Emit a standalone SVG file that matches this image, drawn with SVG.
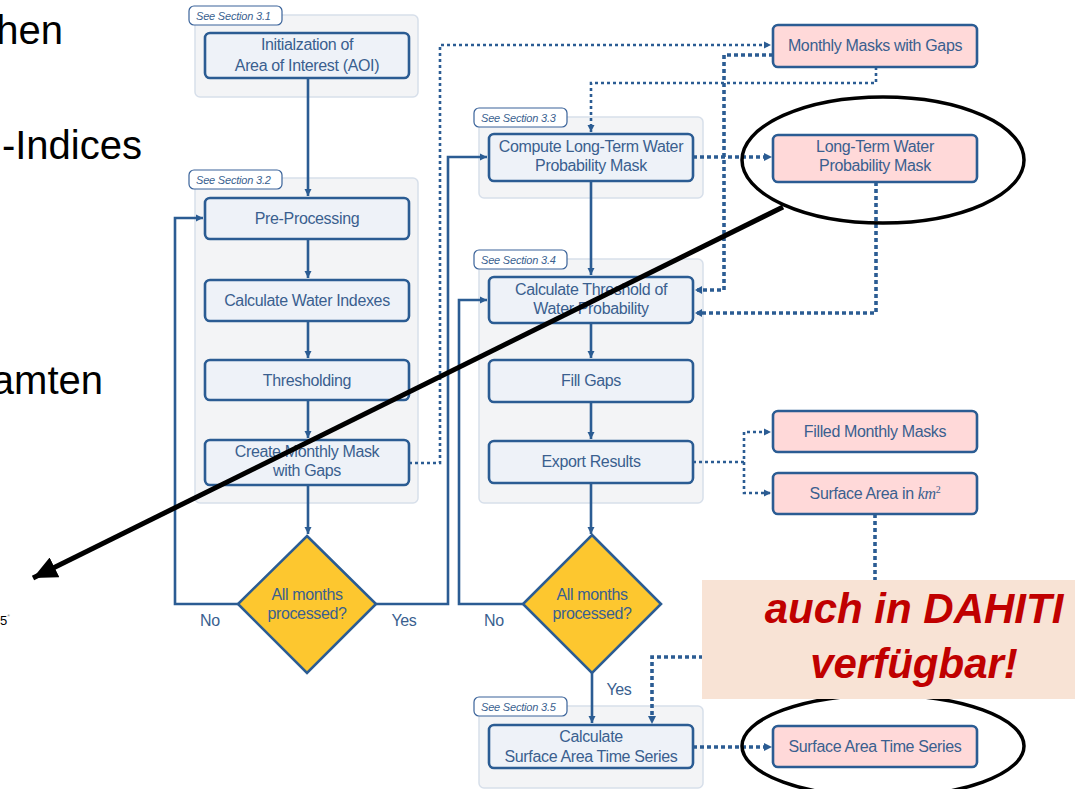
<svg xmlns="http://www.w3.org/2000/svg" width="1075" height="789" viewBox="0 0 1075 789">
<defs>
<style>
.sec{fill:#F3F4F6;stroke:#D7DFEA;stroke-width:1.5}
.lab{fill:#FFFFFF;stroke:#3A639A;stroke-width:1.2}
.labt{font-family:"Liberation Sans",Arial,sans-serif;font-style:italic;font-size:11px;fill:#3A5F8F;letter-spacing:-0.2px}
.box{fill:#EEF2F8;stroke:#2B5C93;stroke-width:2.6}
.pink{fill:#FFD9D9;stroke:#2B5C93;stroke-width:2.6}
.dia{fill:#FDC72F;stroke:#2B5C93;stroke-width:2.6}
.t{font-family:"Liberation Sans",Arial,sans-serif;font-size:16px;fill:#3A5F8F;text-anchor:middle;letter-spacing:-0.35px}
.solid{fill:none;stroke:#2B5C93;stroke-width:2.6}
.dot{fill:none;stroke:#2B5C93;stroke-width:2.6;stroke-dasharray:3 3}
.dotb{fill:none;stroke:#2B5C93;stroke-width:3.6;stroke-dasharray:4 3}
.big{font-family:"Liberation Sans",Arial,sans-serif;font-size:40px;fill:#000000;text-anchor:end}
.red{font-family:"Liberation Sans",Arial,sans-serif;font-size:42px;font-weight:bold;font-style:italic;fill:#C00000;text-anchor:middle}
</style>
<marker id="ah" markerWidth="8" markerHeight="8" refX="7" refY="4" orient="auto" markerUnits="userSpaceOnUse">
<path d="M0,0.5 L7,4 L0,7.5 Z" fill="#2B5C93"/>
</marker>
<marker id="bk" markerWidth="26" markerHeight="22" refX="24" refY="11" orient="auto" markerUnits="userSpaceOnUse">
<path d="M0,0 L24,11 L0,22 Z" fill="#000000"/>
</marker>
</defs>

<rect width="1075" height="789" fill="#FFFFFF"/>

<g id="slide-text">
<text class="big" x="63" y="44">hen</text>
<text class="big" x="142" y="159">-Indices</text>
<text class="big" x="103" y="394">amten</text>
<text x="0" y="625" font-family="Liberation Sans,Arial,sans-serif" font-size="13" fill="#000">5<tspan font-size="7" dy="-6" fill="#999">*</tspan></text>
</g>

<g id="sections">
<rect class="sec" x="195" y="15" width="223" height="82" rx="5"/>
<rect class="sec" x="195" y="178" width="223" height="325" rx="5"/>
<rect class="sec" x="479" y="117" width="224" height="81" rx="5"/>
<rect class="sec" x="479" y="259" width="224" height="244" rx="5"/>
<rect class="sec" x="479" y="706" width="224" height="82" rx="5"/>
<rect class="lab" x="189" y="6" width="93" height="19" rx="5"/>
<text class="labt" x="196" y="20">See Section 3.1</text>
<rect class="lab" x="189" y="170" width="93" height="19" rx="5"/>
<text class="labt" x="196" y="184">See Section 3.2</text>
<rect class="lab" x="474" y="108" width="93" height="19" rx="5"/>
<text class="labt" x="481" y="122">See Section 3.3</text>
<rect class="lab" x="474" y="250" width="93" height="19" rx="5"/>
<text class="labt" x="481" y="264">See Section 3.4</text>
<rect class="lab" x="474" y="697" width="93" height="19" rx="5"/>
<text class="labt" x="481" y="711">See Section 3.5</text>
</g>

<g id="connectors">
<path class="solid" d="M308,78 V196" marker-end="url(#ah)"/>
<path class="solid" d="M308,239 V278" marker-end="url(#ah)"/>
<path class="solid" d="M308,321 V358" marker-end="url(#ah)"/>
<path class="solid" d="M308,400 V438" marker-end="url(#ah)"/>
<path class="solid" d="M308,485 V534" marker-end="url(#ah)"/>
<path class="solid" d="M238,604 H175 V218 H203" marker-end="url(#ah)"/>
<path class="solid" d="M376,604 H448 V157 H487" marker-end="url(#ah)"/>
<path class="solid" d="M591,181 V275" marker-end="url(#ah)"/>
<path class="solid" d="M591,323 V358" marker-end="url(#ah)"/>
<path class="solid" d="M591,402 V439" marker-end="url(#ah)"/>
<path class="solid" d="M591,483 V534" marker-end="url(#ah)"/>
<path class="solid" d="M523,604 H459 V300 H487" marker-end="url(#ah)"/>
<path class="solid" d="M592,673 V723" marker-end="url(#ah)"/>
<path class="dot" d="M409,463 H440 V45 H771" marker-end="url(#ah)"/>
<path class="dotb" d="M773,55 H724 V290 H697"/>
<path d="M702,286 L695,290 L702,294 Z" fill="#2B5C93"/>
<path class="dot" d="M876,67 V83 H591 V132" marker-end="url(#ah)"/>
<path class="dotb" d="M693,157 H765"/>
<path d="M764,153 L772,157 L764,161 Z" fill="#2B5C93"/>
<path class="dotb" d="M876,182 V313 H697"/>
<path d="M702,309 L695,313 L702,317 Z" fill="#2B5C93"/>
<path class="dot" d="M693,462 H744 V432 H771" marker-end="url(#ah)"/>
<path class="dot" d="M744,462 V493 H771" marker-end="url(#ah)"/>
<path class="dotb" d="M875,514 V657 H652 V716"/>
<path d="M648,716 L652,724 L656,716 Z" fill="#2B5C93"/>
<path class="dotb" d="M693,747 H765"/>
<path d="M764,743 L772,747 L764,751 Z" fill="#2B5C93"/>
</g>

<g id="n-init"><rect class="box" x="205" y="33" width="204" height="45" rx="5"/>
<text class="t" x="307" y="50">Initialzation of</text><text class="t" x="307" y="71">Area of Interest (AOI)</text></g>
<g id="n-pre"><rect class="box" x="205" y="198" width="204" height="41" rx="5"/>
<text class="t" x="307" y="224">Pre-Processing</text></g>
<g id="n-wi"><rect class="box" x="205" y="280" width="204" height="41" rx="5"/>
<text class="t" x="307" y="306">Calculate Water Indexes</text></g>
<g id="n-thr"><rect class="box" x="205" y="360" width="204" height="40" rx="5"/>
<text class="t" x="307" y="386">Thresholding</text></g>
<g id="n-cmm"><rect class="box" x="205" y="440" width="204" height="45" rx="5"/>
<text class="t" x="307" y="457">Create Monthly Mask</text><text class="t" x="307" y="476">with Gaps</text></g>
<g id="n-d1"><path class="dia" d="M307,536 L376,604 L307,673 L238,604 Z"/>
<text class="t" x="307" y="600">All months</text><text class="t" x="307" y="619">processed?</text></g>
<text class="t" x="210" y="626">No</text>
<text class="t" x="404" y="626">Yes</text>

<g id="n-clt"><rect class="box" x="489" y="134" width="204" height="47" rx="5"/>
<text class="t" x="591" y="152">Compute Long-Term Water</text><text class="t" x="591" y="171">Probability Mask</text></g>
<g id="n-ctw"><rect class="box" x="489" y="277" width="204" height="46" rx="5"/>
<text class="t" x="591" y="295">Calculate Threshold of</text><text class="t" x="591" y="314">Water Probability</text></g>
<g id="n-fill"><rect class="box" x="489" y="360" width="204" height="42" rx="5"/>
<text class="t" x="591" y="386">Fill Gaps</text></g>
<g id="n-exp"><rect class="box" x="489" y="441" width="204" height="42" rx="5"/>
<text class="t" x="591" y="467">Export Results</text></g>
<g id="n-d2"><path class="dia" d="M592,535 L661,604 L592,673 L523,604 Z"/>
<text class="t" x="592" y="600">All months</text><text class="t" x="592" y="619">processed?</text></g>
<text class="t" x="494" y="626">No</text>
<text class="t" x="619" y="695">Yes</text>
<g id="n-csa"><rect class="box" x="489" y="725" width="204" height="43" rx="5"/>
<text class="t" x="591" y="742">Calculate</text><text class="t" x="591" y="762">Surface Area Time Series</text></g>

<g id="n-mmg"><rect class="pink" x="773" y="25" width="204" height="42" rx="5"/>
<text class="t" x="875" y="51">Monthly Masks with Gaps</text></g>
<g id="n-ltw"><rect class="pink" x="773" y="135" width="204" height="47" rx="5"/>
<text class="t" x="875" y="152">Long-Term Water</text><text class="t" x="875" y="171">Probability Mask</text></g>
<g id="n-fmm"><rect class="pink" x="773" y="411" width="204" height="41" rx="5"/>
<text class="t" x="875" y="437">Filled Monthly Masks</text></g>
<g id="n-sak"><rect class="pink" x="773" y="473" width="204" height="41" rx="5"/>
<text class="t" x="875" y="499">Surface Area in <tspan font-family="Liberation Serif,serif" font-style="italic">km</tspan><tspan font-family="Liberation Serif,serif" font-size="10" dy="-6">2</tspan></text></g>
<g id="n-sats"><rect class="pink" x="773" y="726" width="204" height="41" rx="5"/>
<text class="t" x="875" y="752">Surface Area Time Series</text></g>

<g id="annotations">
<ellipse cx="883" cy="160" rx="141" ry="63" fill="none" stroke="#000" stroke-width="3.5"/>
<ellipse cx="883" cy="746" rx="141" ry="51" fill="none" stroke="#000" stroke-width="3.5"/>
<path d="M783,207 L33,578" stroke="#000" stroke-width="5" fill="none" marker-end="url(#bk)"/>
<rect x="702" y="580" width="373" height="119" fill="#F8E3D5"/>
<text class="red" x="914" y="623">auch in DAHITI</text>
<text class="red" x="914" y="678">verfügbar!</text>
</g>
</svg>
